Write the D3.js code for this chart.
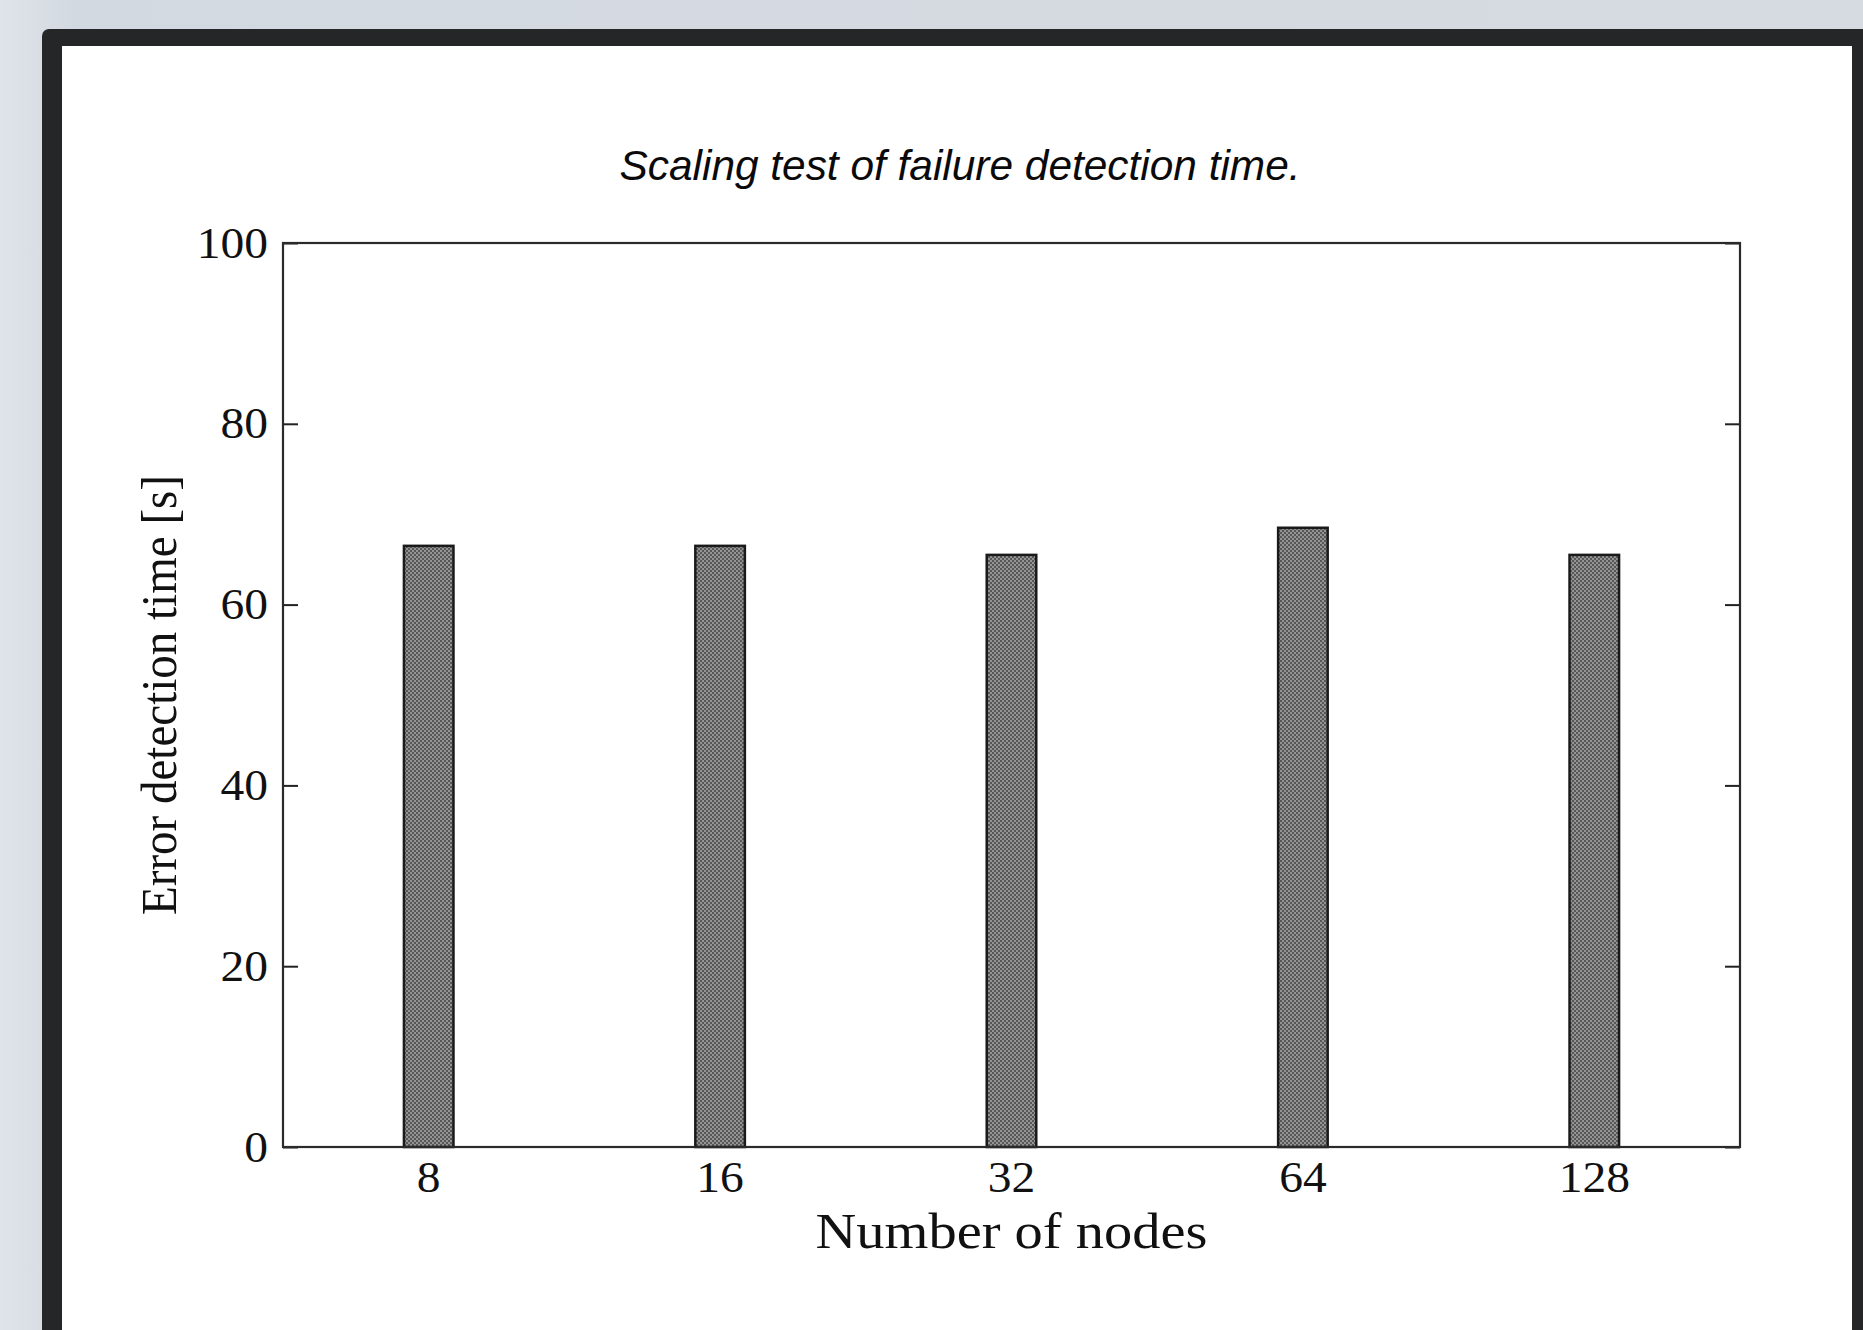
<!DOCTYPE html>
<html>
<head>
<meta charset="utf-8">
<script src="https://cdn.jsdelivr.net/npm/d3@7"></script>
<style>
  html, body { margin: 0; padding: 0; background: #d5dbe1; overflow: hidden; }
</style>
</head>
<body>
<div id="chart"></div>
<script>
// chart data
const nodes = ['8', '16', '32', '64', '128'];
const detectionTime = [66.5, 66.5, 65.5, 68.5, 65.5];
const yTicks = [0, 20, 40, 60, 80, 100];

const W = 1863, H = 1330;
const plot = {left: 283, right: 1740, top: 243, bottom: 1147};
const serif = '"Liberation Serif", "Times New Roman", serif';

const svg = d3.select('#chart')
  .append('svg')
  .attr('width', W)
  .attr('height', H);

const defs = svg.append('defs');

// background gradient behind the frame
const bg = defs.append('linearGradient')
  .attr('id', 'bg')
  .attr('x1', 0).attr('y1', 0).attr('x2', 1).attr('y2', 0);
bg.append('stop').attr('offset', '0').attr('stop-color', '#dfe4ea');
bg.append('stop').attr('offset', '0.04').attr('stop-color', '#d3d9e0');
bg.append('stop').attr('offset', '1').attr('stop-color', '#d6dbe1');

// checkerboard fill of the bars
const pat = defs.append('pattern')
  .attr('id', 'checker')
  .attr('width', 4).attr('height', 4)
  .attr('patternUnits', 'userSpaceOnUse');
pat.append('rect').attr('width', 4).attr('height', 4).attr('fill', '#949494');
pat.append('rect').attr('width', 2).attr('height', 2).attr('fill', '#575757');
pat.append('rect').attr('x', 2).attr('y', 2).attr('width', 2).attr('height', 2).attr('fill', '#575757');

svg.append('rect').attr('width', W).attr('height', H).attr('fill', 'url(#bg)');

// dark frame + white page
svg.append('rect')
  .attr('x', 42).attr('y', 29)
  .attr('width', W).attr('height', H)
  .attr('rx', 7)
  .attr('fill', '#252628');
svg.append('rect')
  .attr('x', 62).attr('y', 46)
  .attr('width', 1852 - 62).attr('height', H)
  .attr('fill', '#ffffff');

const x = d3.scaleBand()
  .domain(nodes)
  .range([plot.left, plot.right])
  .paddingInner(0.83)
  .paddingOuter(0.415);

const y = d3.scaleLinear()
  .domain([0, 100])
  .range([plot.bottom, plot.top]);

// stretch a text sideways a little, like the original bitmap
function widen(sel, k) {
  sel.each(function () {
    const len = this.getComputedTextLength();
    d3.select(this)
      .attr('textLength', len * k)
      .attr('lengthAdjust', 'spacingAndGlyphs');
  });
}

// title
svg.append('text')
  .attr('x', 960)
  .attr('y', 180)
  .attr('text-anchor', 'middle')
  .attr('textLength', 681)
  .attr('lengthAdjust', 'spacingAndGlyphs')
  .style('font-family', '"Liberation Sans", Arial, sans-serif')
  .style('font-style', 'italic')
  .style('font-size', '42px')
  .attr('fill', '#0a0a0a')
  .text('Scaling test of failure detection time.');

// bars
svg.append('g')
  .selectAll('rect')
  .data(detectionTime)
  .enter()
  .append('rect')
  .attr('x', (d, i) => x(nodes[i]))
  .attr('y', d => y(d))
  .attr('width', x.bandwidth())
  .attr('height', d => y(0) - y(d))
  .attr('fill', 'url(#checker)')
  .attr('stroke', '#1a1a1a')
  .attr('stroke-width', 2.5);

// left axis, ticks pointing inwards
const yAxis = svg.append('g')
  .attr('transform', 'translate(' + plot.left + ',0)')
  .call(d3.axisLeft(y).tickValues(yTicks).tickSizeInner(-15).tickSizeOuter(0).tickPadding(15));

// right axis, ticks only
svg.append('g')
  .attr('transform', 'translate(' + plot.right + ',0)')
  .call(d3.axisRight(y).tickValues(yTicks).tickSizeInner(-15).tickSizeOuter(0).tickFormat(''));

// bottom axis, labels only
const xAxis = svg.append('g')
  .attr('transform', 'translate(0,' + plot.bottom + ')')
  .call(d3.axisBottom(x).tickSize(0).tickPadding(14));

svg.selectAll('.domain').remove();
svg.selectAll('.tick line').attr('stroke', '#222').attr('stroke-width', 2);
svg.selectAll('.tick text')
  .style('font-family', serif)
  .style('font-size', '44px')
  .attr('fill', '#111');
xAxis.selectAll('.tick text').attr('dy', '0.71em');
widen(svg.selectAll('.tick text'), 1.08);

// plot border
svg.append('rect')
  .attr('x', plot.left).attr('y', plot.top)
  .attr('width', plot.right - plot.left)
  .attr('height', plot.bottom - plot.top)
  .attr('fill', 'none')
  .attr('stroke', '#2a2a2a')
  .attr('stroke-width', 2.2);

// axis titles
svg.append('text')
  .attr('x', (plot.left + plot.right) / 2)
  .attr('y', 1248)
  .attr('text-anchor', 'middle')
  .attr('textLength', 392)
  .attr('lengthAdjust', 'spacingAndGlyphs')
  .style('font-family', serif)
  .style('font-size', '50px')
  .attr('fill', '#111')
  .text('Number of nodes');

svg.append('text')
  .attr('transform', 'translate(176,' + ((plot.top + plot.bottom) / 2) + ') rotate(-90)')
  .attr('text-anchor', 'middle')
  .attr('textLength', 440)
  .attr('lengthAdjust', 'spacingAndGlyphs')
  .style('font-family', serif)
  .style('font-size', '50px')
  .attr('fill', '#111')
  .text('Error detection time [s]');
</script>
</body>
</html>
